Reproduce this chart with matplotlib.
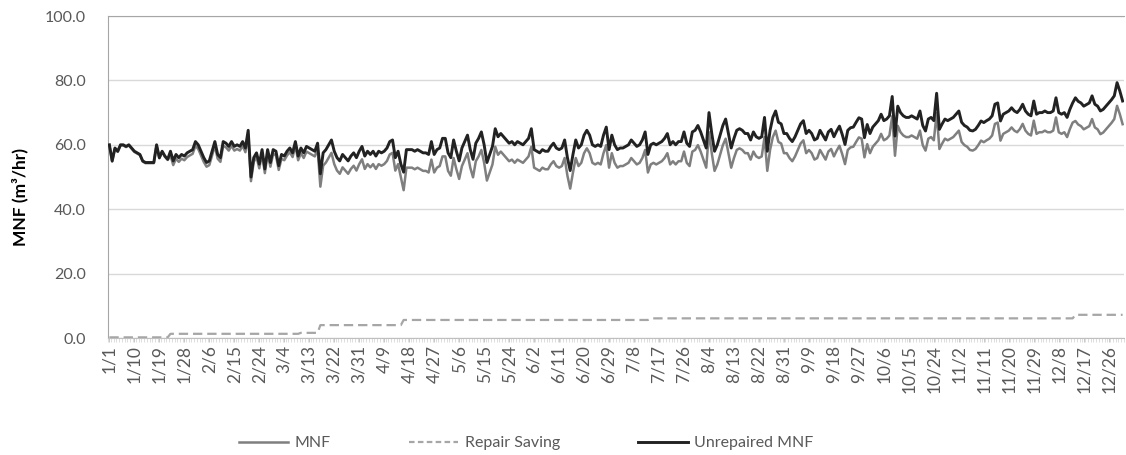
import numpy as np
import pandas as pd
import matplotlib
matplotlib.use("Agg")
import matplotlib.pyplot as plt
from matplotlib.lines import Line2D

plt.rcParams["font.family"] = ["Lato", "DejaVu Sans"]

# daily dates for the (leap) year
dates = pd.date_range("2016-01-01", "2016-12-31", freq="D")
day_labels = [f"{d.month}/{d.day}" for d in dates]

# unrepaired minimum night flow, m3/hr, one row per month
unrepaired_jan = [60, 55, 59, 58, 60, 60, 59.5, 60, 59, 58, 57.5, 57, 55, 54.5, 54.5, 54.5,
                  54.5, 60, 56, 58, 56.5, 55.5, 58, 55, 57, 56, 57, 56.5, 57.5, 58, 58.5]
unrepaired_feb = [61, 60, 58, 56, 54.5, 55, 58, 61, 57, 56, 61, 60.5, 59.5, 61, 59.5,
                  60, 59.5, 61, 59, 64.5, 50, 56, 57.5, 54, 58.5, 52.5, 58.5, 54.5, 58.5]
unrepaired_mar = [58, 53.5, 57, 56.5, 58, 59, 57.5, 61, 56.5, 59, 57.5, 59.5, 59, 58.5, 58, 60.5,
                  51, 57.5, 58.5, 60, 61.5, 58, 56, 55, 57, 56, 55, 56.5, 57.5, 56, 58]
unrepaired_apr = [59.5, 56.5, 58, 57, 58, 56.5, 58, 57.5, 58, 59, 61, 61.5, 56, 58, 54,
                  51.5, 58.5, 58.5, 58.5, 58, 58.5, 58, 57.5, 57.5, 57, 61, 57, 58.5, 59, 62]
unrepaired_may = [62, 57.5, 56, 61.5, 58, 55, 59, 61, 63, 58.5, 55.5, 60.5, 62, 64, 60, 54.5,
                  57, 59.5, 65, 62.5, 63.5, 62.5, 61.5, 60.5, 61, 60, 61, 60.5, 60, 61, 62]
unrepaired_jun = [65, 58.5, 58, 57.5, 58.5, 58, 58, 59.5, 60.5, 59, 58.5, 59, 61.5, 56, 52,
                  57, 61.5, 59, 60, 63, 64.5, 63, 60, 59.5, 60, 59.5, 63, 65.5, 58.5, 63]
unrepaired_jul = [60, 58.5, 59, 59, 59.5, 60, 61.5, 60.5, 59.5, 60, 61.5, 64, 57, 60, 60.5, 60,
                  60.5, 61, 62, 63.5, 60, 61, 60, 61, 61, 64, 60.5, 59.5, 64, 64.5, 66]
unrepaired_aug = [64, 61.5, 59, 70, 63.5, 58, 60, 63, 66, 68, 63.5, 59, 62, 64.5, 65, 64.5,
                  63.5, 63.5, 61.5, 64, 62.5, 62, 62.5, 68.5, 58, 64.5, 68.5, 70.5, 67, 66.5, 63.5]
unrepaired_sep = [63.5, 62, 61, 62.5, 64.5, 66.5, 67.5, 63.5, 64.5, 63.5, 61.5, 62, 64.5, 63, 61.5,
                  64, 64.8, 62.5, 64.3, 65.8, 63.2, 60.1, 64.5, 65.3, 65.5, 67, 68.4, 68, 62.2, 66.3]
unrepaired_oct = [63.5, 65.5, 66.5, 67.5, 69.5, 67.5, 68, 69, 75, 62.7, 72, 70, 69, 68.5, 68.5, 69,
                  68.5, 68, 70.5, 66, 64.3, 68, 68.5, 67.5, 76, 64.8, 66.5, 68, 67.5, 68, 68.5]
unrepaired_nov = [69.5, 70.5, 67, 66, 65.5, 64.5, 64.3, 64.8, 66, 67.4, 66.9, 67.5, 68, 69, 72.6,
                  73, 67.4, 69.5, 70, 70.5, 71.5, 70.5, 70, 71, 72.6, 70.5, 69.5, 69, 73.6, 69.5]
unrepaired_dec = [70, 70, 70.5, 70, 70, 70.5, 74.6, 70, 69.5, 70, 68.5, 71, 73, 74.6, 73.5, 73,
                  72, 72.5, 73, 75.2, 72.6, 72, 70.5, 71, 72, 73, 74, 75.2, 79.3, 76.7, 73.6]

unrepaired = np.array(unrepaired_jan + unrepaired_feb + unrepaired_mar + unrepaired_apr
                      + unrepaired_may + unrepaired_jun + unrepaired_jul + unrepaired_aug
                      + unrepaired_sep + unrepaired_oct + unrepaired_nov + unrepaired_dec)

# cumulative repair saving: day index where each level starts, and the level
saving_start = [0, 22, 69, 76, 106, 195, 348]
saving_level = [0.2, 1.3, 1.6, 4.0, 5.6, 6.1, 7.2]

saving = np.zeros(len(dates))
for start, level in zip(saving_start, saving_level):
    saving[start:] = level

# flow after repairs = unrepaired flow less what the repairs saved
mnf = unrepaired - saving

x = np.arange(len(dates))

W, H = 1126, 455
fig = plt.figure(figsize=(W / 100, H / 100), dpi=100)
ax = fig.add_axes([108 / W, 1 - 338 / H, (1124 - 108) / W, (338 - 16) / H])

ax.plot(x, mnf, color="#7f7f7f", lw=1.8, zorder=3)
ax.plot(x, saving, color="#a6a6a6", lw=1.6, dashes=(4.2, 2.2), zorder=3)
ax.plot(x, unrepaired, color="#222222", lw=2.1, zorder=4)

ax.set_xlim(-0.5, len(dates) - 0.5)
ax.set_ylim(0, 100)
ax.set_yticks(np.arange(0, 101, 20))
ax.set_yticklabels([f"{v:.1f}" for v in np.arange(0, 101, 20)])
ax.grid(axis="y", color="#d9d9d9", lw=1)
ax.set_axisbelow(True)

ticks = x[::9]
ax.set_xticks(ticks)
ax.set_xticklabels([day_labels[i] for i in ticks], rotation=90, ha="center", va="top")
ax.set_xticks(np.arange(-0.5, len(dates), 1), minor=True)

ax.tick_params(axis="y", length=0, pad=16, labelsize=11.5, labelcolor="#595959")
ax.tick_params(axis="x", which="major", length=3, width=0.6, color="#bfbfbf",
               pad=2, labelsize=12.5, labelcolor="#595959")
ax.tick_params(axis="x", which="minor", length=3, width=0.5, color="#d0d0d0")

ax.spines["right"].set_visible(False)
ax.spines["top"].set_color("#a6a6a6")
ax.spines["left"].set_color("#a6a6a6")
ax.spines["bottom"].set_color("#bfbfbf")

fig.text(20 / W, 1 - 197 / H, "MNF (m\u00b3/hr)", rotation=90, ha="center", va="center",
         fontsize=12.5, fontweight="bold", color="black")

handles = [Line2D([], [], color="#7f7f7f", lw=1.8),
           Line2D([], [], color="#a6a6a6", lw=1.6, dashes=(2.5, 1.5)),
           Line2D([], [], color="#222222", lw=2.1)]
leg = fig.legend(handles, ["MNF", "Repair Saving", "Unrepaired MNF"], loc="center",
                 bbox_to_anchor=(526 / W, 1 - 443 / H), ncol=3, frameon=False,
                 handlelength=3.1, columnspacing=4.9, handletextpad=0.4, fontsize=11.5)
for t in leg.get_texts():
    t.set_color("#595959")

fig.savefig("out.png", dpi=100)
